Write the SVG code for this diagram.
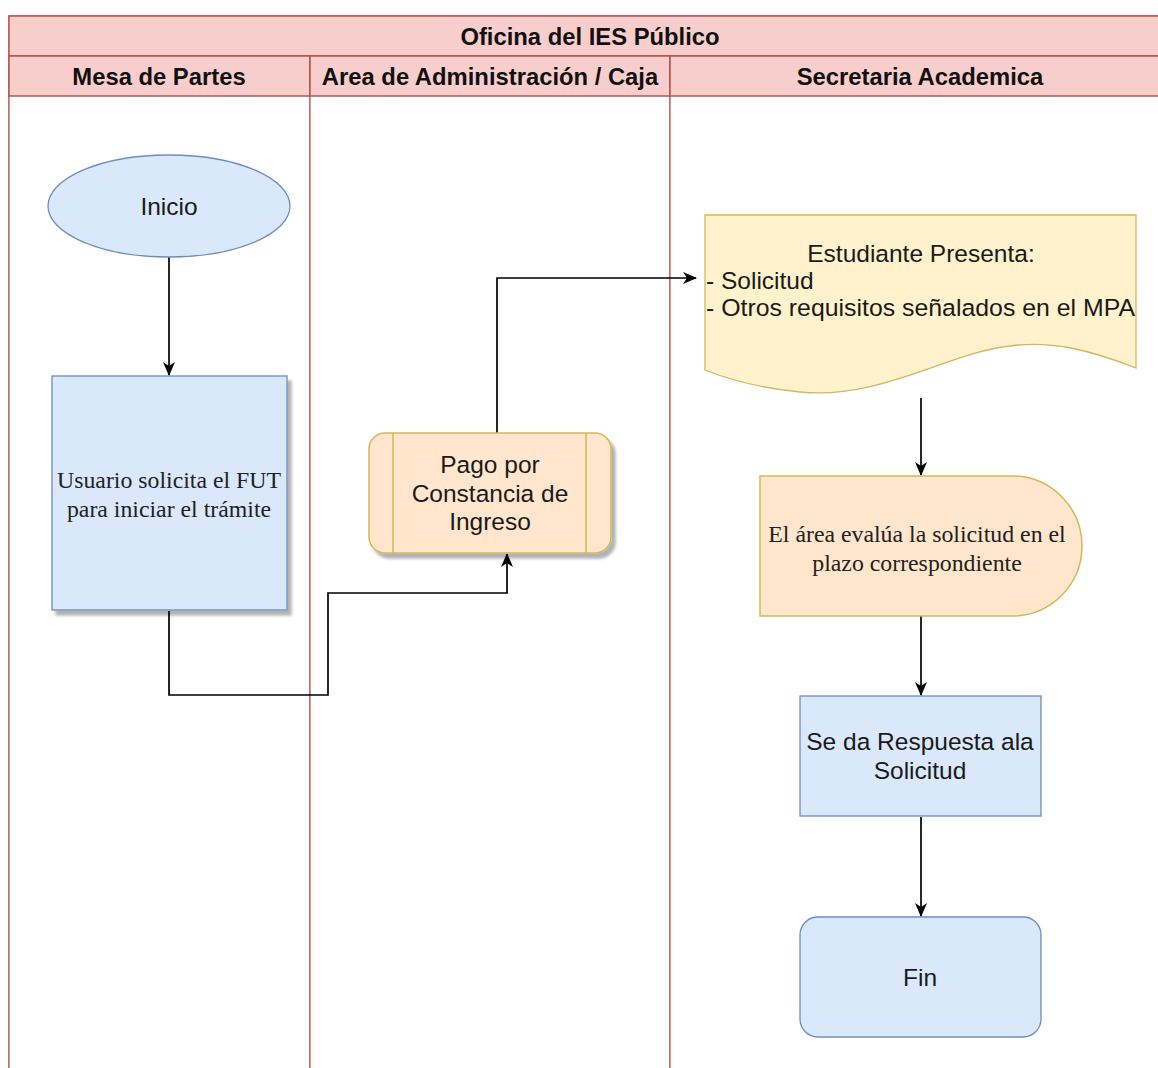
<svg xmlns="http://www.w3.org/2000/svg" width="1158" height="1068" viewBox="0 0 1158 1068">
<style>
.lane{fill:#ffffff;stroke:#b85450;stroke-width:1.2}
.hdr{fill:#f8cecc;stroke:#b85450;stroke-width:1.5}
.ht{font-family:"Liberation Sans",Arial,sans-serif;font-weight:bold;font-size:23.8px;fill:#111;text-anchor:middle}
.sans{font-family:"Liberation Sans",Arial,sans-serif;font-size:24.5px;fill:#1a1a1a;text-anchor:middle}
.serif{font-family:"Liberation Serif","Times New Roman",serif;font-size:23.8px;fill:#222;text-anchor:middle}
.blue{fill:#dae8fc;stroke:#6c8ebf;stroke-width:1.3}
.orange{fill:#ffe6cc;stroke:#d6b656;stroke-width:1.5}
.yellow{fill:#fff2cc;stroke:#d6b656;stroke-width:1.3}
.edge{fill:none;stroke:#000;stroke-width:1.7}
</style>
<defs>
<marker id="arr" viewBox="0 0 14 12" refX="13" refY="6" markerWidth="14" markerHeight="12" markerUnits="userSpaceOnUse" orient="auto">
<path d="M0,0 L14,6 L0,12 L4,6 Z" fill="#000"/>
</marker>
<filter id="sh" x="-10%" y="-10%" width="130%" height="130%">
<feDropShadow dx="4" dy="5" stdDeviation="1.5" flood-color="#000" flood-opacity="0.3"/>
</filter>
</defs>
<rect width="1158" height="1068" fill="#ffffff"/>
<g id="pool">
<rect class="lane" x="9" y="16" width="1162" height="1060"/>
<rect class="hdr" x="9" y="16" width="1162" height="40"/>
<text class="ht" x="590" y="45">Oficina del IES Público</text>
</g>
<g id="lane-mesa">
<rect class="lane" x="9" y="56" width="301" height="1020"/>
<rect class="hdr" x="9" y="56" width="301" height="40"/>
<text class="ht" x="159" y="85">Mesa de Partes</text>
</g>
<g id="lane-admin">
<rect class="lane" x="310" y="56" width="360" height="1020"/>
<rect class="hdr" x="310" y="56" width="360" height="40"/>
<text class="ht" x="490" y="85">Area de Administración / Caja</text>
</g>
<g id="lane-secretaria">
<rect class="lane" x="670" y="56" width="501" height="1020"/>
<rect class="hdr" x="670" y="56" width="501" height="40"/>
<text class="ht" x="920" y="85">Secretaria Academica</text>
</g>
<g id="connectors">
<path class="edge" d="M169,257 V375" marker-end="url(#arr)"/>
<path class="edge" d="M169,611 V695 H328 V593 H507 V554" marker-end="url(#arr)"/>
<path class="edge" d="M497,433 V278 H696" marker-end="url(#arr)"/>
<path class="edge" d="M921,398 V475" marker-end="url(#arr)"/>
<path class="edge" d="M921,616 V695" marker-end="url(#arr)"/>
<path class="edge" d="M921,817 V916" marker-end="url(#arr)"/>
</g>
<g id="inicio">
<ellipse class="blue" cx="169" cy="206" rx="121" ry="51"/>
<text class="sans" x="169" y="215">Inicio</text>
</g>
<g id="usuario">
<rect class="blue" x="52" y="376" width="235" height="234" filter="url(#sh)"/>
<text class="serif" x="169" y="488">Usuario solicita el FUT</text>
<text class="serif" x="169" y="517">para iniciar el trámite</text>
</g>
<g id="pago">
<rect class="orange" x="369" y="433" width="242" height="120" rx="16" filter="url(#sh)"/>
<line x1="393" y1="433" x2="393" y2="553" stroke="#d6b656" stroke-width="1.5"/>
<line x1="586" y1="433" x2="586" y2="553" stroke="#d6b656" stroke-width="1.5"/>
<text class="sans" x="490" y="473">Pago por</text>
<text class="sans" x="490" y="502">Constancia de</text>
<text class="sans" x="490" y="530">Ingreso</text>
</g>
<g id="estudiante">
<path class="yellow" d="M705,215 H1136 V368 C1090,350 1050,340 1010,346 C950,352 880,400 800,392 C760,388 730,380 705,370 Z"/>
<text class="sans" x="921" y="262">Estudiante Presenta:</text>
<text class="sans" x="706" y="289" style="text-anchor:start">- Solicitud</text>
<text class="sans" x="706" y="316" style="text-anchor:start" textLength="429" lengthAdjust="spacingAndGlyphs">- Otros requisitos señalados en el MPA</text>
</g>
<g id="evalua">
<path class="orange" d="M760,476 H1012 A70,70 0 0 1 1012,616 H760 Z"/>
<text class="serif" x="917" y="542">El área evalúa la solicitud en el</text>
<text class="serif" x="917" y="571">plazo correspondiente</text>
</g>
<g id="respuesta">
<rect class="blue" x="800" y="696" width="241" height="120"/>
<text class="sans" x="920" y="750">Se da Respuesta ala</text>
<text class="sans" x="920" y="779">Solicitud</text>
</g>
<g id="fin">
<rect class="blue" x="800" y="917" width="241" height="120" rx="18"/>
<text class="sans" x="920" y="986">Fin</text>
</g>
</svg>
